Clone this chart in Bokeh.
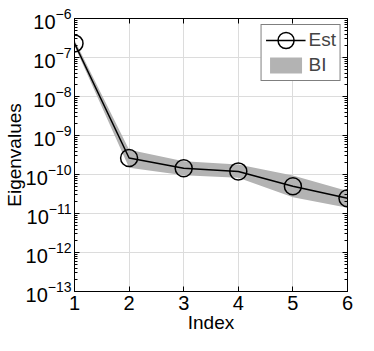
from bokeh.plotting import figure
from bokeh.models import (ColumnDataSource, FixedTicker, LogAxis, LinearAxis, Legend, LegendItem,
                          CustomJSTickFormatter, Range1d, LogTickFormatter)
from bokeh.embed import file_html
from bokeh.resources import INLINE

# data
index = [1, 2, 3, 4, 5, 6]
est = [2.3e-7, 2.65e-10, 1.45e-10, 1.2e-10, 5.0e-11, 2.45e-11]
bi_lower = [2.0e-7, 1.5e-10, 9.5e-11, 8.3e-11, 2.6e-11, 1.4e-11]
bi_upper = [2.8e-7, 4.3e-10, 2.2e-10, 1.8e-10, 9.4e-11, 3.8e-11]
x_ticks = [1, 2, 3, 4, 5, 6]
y_exponents = [-13, -12, -11, -10, -9, -8, -7, -6]

FONT = "Liberation Sans"

src = ColumnDataSource(dict(x=index, y=est, lo=bi_lower, hi=bi_upper))

p = figure(width=358, height=335, output_backend="svg", toolbar_location=None,
           y_axis_type="log", x_range=Range1d(1, 6),
           y_range=Range1d(10.0 ** y_exponents[0], 10.0 ** y_exponents[-1]),
           min_border_left=0, min_border_right=11, min_border_top=18, min_border_bottom=0)
p.outline_line_color = "black"
p.outline_line_width = 1
p.background_fill_color = "white"
p.border_fill_color = "white"

y_major = [10.0 ** e for e in y_exponents]
y_minor = [m * 10.0 ** e for e in y_exponents[:-1] for m in range(2, 10)]
yticker = FixedTicker(ticks=y_major, minor_ticks=y_minor)
xticker = FixedTicker(ticks=x_ticks)

band = p.varea(x="x", y1="lo", y2="hi", source=src, fill_color="#b3b3b3")
line = p.line(x="x", y="y", source=src, line_color="black", line_width=1.5)
circ = p.ellipse(x="x", y="y", width=17, height=17, width_units="screen", height_units="screen",
                 source=src, fill_alpha=0, line_color="black", line_width=1.5)

def style_axis(ax):
    ax.major_tick_in = 5
    ax.major_tick_out = 0
    ax.minor_tick_in = 3
    ax.minor_tick_out = 0
    ax.axis_line_color = "black"
    ax.major_tick_line_color = "black"
    ax.minor_tick_line_color = "black"
    ax.major_label_text_font = FONT
    ax.major_label_text_font_size = "20px"
    ax.major_label_text_color = "black"
    ax.axis_label_text_font = FONT
    ax.axis_label_text_font_size = "19px"
    ax.axis_label_text_font_style = "normal"
    ax.axis_label_text_color = "black"

yax = p.yaxis[0]
yax.ticker = yticker
yax.formatter = LogTickFormatter()
yax.axis_label = "Eigenvalues"
yax.axis_label_standoff = -2
yax.major_label_standoff = 3
style_axis(yax)

xax = p.xaxis[0]
xax.ticker = xticker
xax.axis_label = "Index"
xax.axis_label_standoff = -1
xax.major_label_standoff = 4
style_axis(xax)
xax.minor_tick_in = 0
xax.major_label_text_line_height = 1.0
xax.axis_label_text_line_height = 1.0

blank = CustomJSTickFormatter(code="return ''")
rax = LogAxis(ticker=yticker, formatter=blank)
style_axis(rax)
rax.major_label_text_font_size = "0px"
rax.major_label_standoff = 0
rax.axis_label_standoff = 0
p.add_layout(rax, "right")
tax = LinearAxis(ticker=xticker, formatter=blank)
style_axis(tax)
tax.major_label_text_font_size = "0px"
tax.major_label_standoff = 0
tax.axis_label_standoff = 0
tax.minor_tick_in = 0
p.add_layout(tax, "above")

for g in (p.xgrid[0], p.ygrid[0]):
    g.grid_line_color = "#dcdcdc"
    g.grid_line_width = 1
p.xgrid[0].ticker = xticker
p.ygrid[0].ticker = yticker

legend = Legend(items=[LegendItem(label="Est", renderers=[line, circ]),
                       LegendItem(label="BI", renderers=[band])],
                location="top_right", orientation="vertical")
legend.border_line_color = "black"
legend.border_line_width = 1
legend.background_fill_alpha = 1
legend.label_text_font = FONT
legend.label_text_font_size = "19px"
legend.glyph_width = 40
legend.glyph_height = 20
legend.label_height = 20
legend.spacing = 3
legend.padding = 4
legend.margin = 6
legend.label_standoff = 3
p.add_layout(legend)

open("out.html", "w").write(file_html(p, INLINE))
